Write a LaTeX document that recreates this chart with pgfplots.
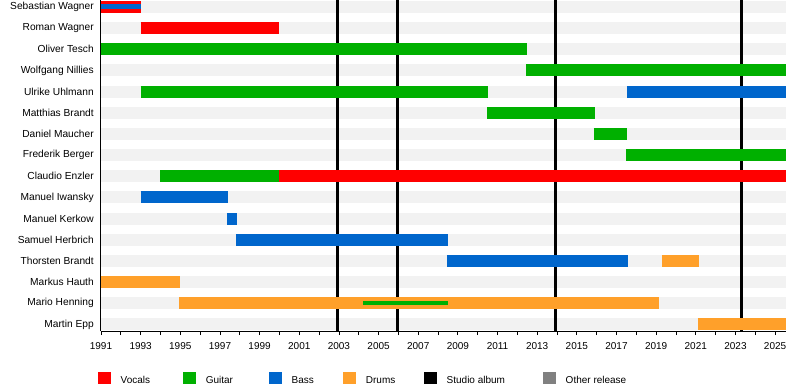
\documentclass[border=0pt]{standalone}
\usepackage{fontspec}
\setmainfont{Liberation Sans}
\usepackage{pgfplots}
\pgfplotsset{compat=1.18}
\definecolor{cvoc}{HTML}{FF0000}
\definecolor{cgui}{HTML}{00B000}
\definecolor{cbas}{HTML}{0066CC}
\definecolor{cdru}{HTML}{FFA02A}
\definecolor{cstr}{HTML}{F2F2F2}
\definecolor{coth}{HTML}{808080}
\newcommand{\seg}[5][9pt]{\addplot[forget plot, #2, line width=#1] coordinates {(#4,#3) (#5,#3)};}
\newcommand{\album}[1]{\addplot[forget plot, black, line width=2.25pt] coordinates {(#1,0.69) (#1,16.33)};}
\begin{document}
\begin{tikzpicture}
\path[use as bounding box] (0,0) rectangle (600pt,292.5pt);
\begin{axis}[
 at={(75.75pt,44.25pt)}, anchor=south west,
 scale only axis, width=513.75pt, height=248.25pt,
 xmin=1991, xmax=2025.55, ymin=0.69, ymax=16.33,
 axis x line*=bottom, axis y line*=left,
 axis line style={-, line width=0.75pt, black},
 axis on top,
 xtick={1991,1993,...,2025}, minor xtick={1992,1994,...,2024},
 tick align=outside, major tick length=3pt, minor tick length=3pt,
 xtick style={black, line width=0.6pt},
 minor tick style={black, line width=0.6pt},
 xticklabel style={font=\fontsize{7.5}{9}\selectfont, inner sep=0pt, anchor=north, yshift=-5.25pt},
 /pgf/number format/1000 sep={}, /pgf/number format/assume math mode=true,
 ytick={1,...,16},
 yticklabels={Martin Epp, Mario Henning, Markus Hauth, Thorsten Brandt, Samuel Herbrich, Manuel Kerkow, Manuel Iwansky, Claudio Enzler, Frederik Berger, Daniel Maucher, Matthias Brandt, Ulrike Uhlmann, Wolfgang Nillies, Oliver Tesch, Roman Wagner, Sebastian Wagner},
 ytick style={draw=none},
 yticklabel style={font=\fontsize{7.65}{9}\selectfont, inner sep=0pt, anchor=east, xshift=-2.25pt},
 legend columns=6,
 legend image code/.code={\fill[#1] (0pt,-2.4pt) rectangle (9.4pt,7pt);},
 legend style={at={([xshift=-2.25pt,yshift=-35.625pt]axis description cs:0,0)}, anchor=west,
   draw=none, fill=none, inner sep=0pt, outer sep=0pt,
   nodes={inner sep=0pt, font=\fontsize{7.5}{9}\selectfont},
   /tikz/every odd column/.append style={column sep=7.6pt},
   /tikz/column 2/.append style={column sep=24.75pt},
   /tikz/column 4/.append style={column sep=27pt},
   /tikz/column 6/.append style={column sep=22pt},
   /tikz/column 8/.append style={column sep=21.5pt},
   /tikz/column 10/.append style={column sep=28.5pt}},
]
\pgfplotsinvokeforeach{1,...,16}{\addplot[forget plot, cstr, line width=9pt] coordinates {(1991,#1) (2025.55,#1)};}
\album{2002.93}
\album{2005.95}
\album{2013.92}
\album{2023.3}
% Sebastian Wagner
\seg{cvoc}{16}{1991}{1993}
\seg[3.75pt]{cbas}{16}{1991}{1993}
% Roman Wagner
\seg{cvoc}{15}{1993}{2000}
% Oliver Tesch
\seg{cgui}{14}{1991}{2012.5}
% Wolfgang Nillies
\seg{cgui}{13}{2012.45}{2025.55}
% Ulrike Uhlmann
\seg{cgui}{12}{1993}{2010.52}
\seg{cbas}{12}{2017.53}{2025.55}
% Matthias Brandt
\seg{cgui}{11}{2010.47}{2015.91}
% Daniel Maucher
\seg{cgui}{10}{2015.86}{2017.53}
% Frederik Berger
\seg{cgui}{9}{2017.48}{2025.55}
% Claudio Enzler
\seg{cgui}{8}{1994}{2000}
\seg{cvoc}{8}{2000}{2025.55}
% Manuel Iwansky
\seg{cbas}{7}{1993}{1997.4}
% Manuel Kerkow
\seg{cbas}{6}{1997.35}{1997.86}
% Samuel Herbrich
\seg{cbas}{5}{1997.8}{2008.5}
% Thorsten Brandt
\seg{cbas}{4}{2008.45}{2017.57}
\seg{cdru}{4}{2019.29}{2021.16}
% Markus Hauth
\seg{cdru}{3}{1991}{1995}
% Mario Henning
\seg{cdru}{2}{1994.95}{2019.14}
\seg[3pt]{cgui}{2}{2004.21}{2008.5}
% Martin Epp
\seg{cdru}{1}{2021.1}{2025.55}
\addlegendimage{fill=cvoc, draw=none}\addlegendentry{Vocals}
\addlegendimage{fill=cgui, draw=none}\addlegendentry{Guitar}
\addlegendimage{fill=cbas, draw=none}\addlegendentry{Bass}
\addlegendimage{fill=cdru, draw=none}\addlegendentry{Drums}
\addlegendimage{fill=black, draw=none}\addlegendentry{Studio album}
\addlegendimage{fill=coth, draw=none}\addlegendentry{Other release}
\end{axis}
\end{tikzpicture}
\end{document}
